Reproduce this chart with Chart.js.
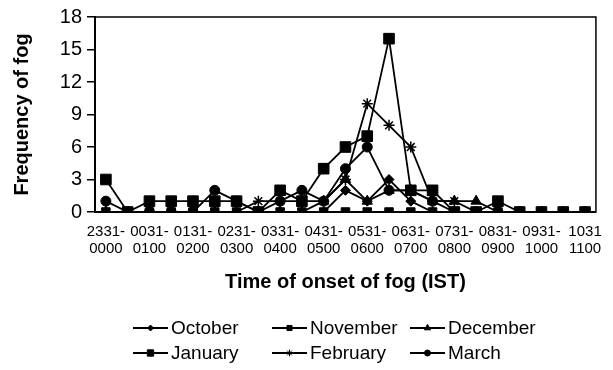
<!DOCTYPE html>
<html>
<head>
<meta charset="utf-8">
<script src="https://cdn.jsdelivr.net/npm/chart.js@4.4.1/dist/chart.umd.min.js"></script>
<style>
  html, body { margin: 0; padding: 0; background: #fff; }
  #wrap { width: 613px; height: 370px; }
</style>
</head>
<body>
<div id="wrap"><canvas id="fog"></canvas></div>
<script>
// half-hour slots (IST)
const timeSlots = ['2331-0000', '0001-0030', '0031-0100', '0101-0130', '0131-0200', '0201-0230',
  '0231-0300', '0301-0330', '0331-0400', '0401-0430', '0431-0500', '0501-0530', '0531-0600',
  '0601-0630', '0631-0700', '0701-0730', '0731-0800', '0801-0830', '0831-0900', '0901-0930',
  '0931-1000', '1001-1030', '1031-1100'];

const october  = [0, 0, 0, 0, 0, 0, 0, 0, 0, 0, 0, 2, 1, 3, 1, 0, 0, 0, 0, 0, 0, 0, 0];
const november = [0, 0, 0, 0, 0, 0, 0, 0, 0, 0, 0, 0, 0, 0, 0, 0, 0, 0, 0, 0, 0, 0, 0];
const december = [0, 0, 0, 0, 0, 0, 0, 0, 0, 0, 1, 3, 1, 2, 2, 1, 1, 1, 0, 0, 0, 0, 0];
const january  = [3, 0, 1, 1, 1, 1, 1, 0, 2, 1, 4, 6, 7, 16, 2, 2, 0, 0, 1, 0, 0, 0, 0];
const february = [0, 0, 0, 0, 0, 0, 0, 1, 1, 1, 1, 3, 10, 8, 6, 1, 1, 0, 0, 0, 0, 0, 0];
const march    = [1, 0, 0, 0, 0, 2, 1, 0, 1, 2, 1, 4, 6, 2, 2, 1, 0, 0, 0, 0, 0, 0, 0];

const yTicks = [0, 3, 6, 9, 12, 15, 18];

const FONT = 'Arial, "Liberation Sans", sans-serif';

function series(label, data, pointStyle, radius) {
  return {
    label, data, pointStyle,
    pointRadius: radius,
    pointHoverRadius: radius,
    legendRadius: Math.max(3, radius * 0.6),
    borderColor: '#000',
    backgroundColor: '#000',
    pointBorderColor: '#000',
    pointBackgroundColor: '#000',
    pointBorderWidth: pointStyle === 'star' ? 1.5 : 1,
    borderWidth: 1.8,
    tension: 0,
    fill: false
  };
}

// box around the plot area
const plotBorder = {
  id: 'plotBorder',
  afterDraw(chart) {
    const { ctx, chartArea: a } = chart;
    ctx.save();
    ctx.strokeStyle = '#000';
    ctx.lineWidth = 1.5;
    ctx.strokeRect(a.left, a.top, a.right - a.left, a.bottom - a.top);
    ctx.restore();
  }
};

// legend laid out as a 3 x 2 grid, like the Excel one
const gridLegend = {
  id: 'gridLegend',
  afterDraw(chart) {
    const { ctx } = chart;
    const cols = [133, 272, 410];
    const rows = [328, 353];
    chart.data.datasets.forEach((ds, i) => {
      const x = cols[i % 3], y = rows[Math.floor(i / 3)];
      ctx.save();
      ctx.strokeStyle = '#000';
      ctx.fillStyle = '#000';
      ctx.lineWidth = 1.8;
      ctx.beginPath();
      ctx.moveTo(x, y);
      ctx.lineTo(x + 35, y);
      ctx.stroke();
      ctx.lineWidth = 1;
      Chart.helpers.drawPoint(ctx, { pointStyle: ds.pointStyle, radius: ds.legendRadius, borderWidth: 1, rotation: 0 }, x + 17.5, y);
      ctx.font = '19px ' + FONT;
      ctx.textBaseline = 'middle';
      ctx.textAlign = 'left';
      ctx.fillText(ds.label, x + 38, y + 1);
      ctx.restore();
    });
  }
};

new Chart(document.getElementById('fog'), {
  type: 'line',
  data: {
    labels: timeSlots,
    datasets: [
      series('October', october, 'rectRot', 5),
      series('November', november, 'rect', 6),
      series('December', december, 'triangle', 6),
      series('January', january, 'rect', 7.5),
      series('February', february, 'star', 5.5),
      series('March', march, 'circle', 5)
    ]
  },
  options: {
    responsive: true,
    maintainAspectRatio: false,
    animation: false,
    layout: { padding: { top: 16, right: 13, bottom: 70, left: 0 } },
    plugins: {
      legend: { display: false },
      tooltip: { enabled: false }
    },
    scales: {
      x: {
        type: 'category',
        offset: true,
        grid: { display: false, drawTicks: false },
        border: { display: true, color: '#000', width: 2 },
        afterFit(scale) { scale.height = 88; },
        ticks: {
          autoSkip: false,
          maxRotation: 0,
          minRotation: 0,
          padding: 11,
          color: '#000',
          font: { family: FONT, size: 15, lineHeight: 1.13 },
          callback(value, index) {
            if (index % 2) return '';
            const [a, b] = timeSlots[index].split('-');
            return [index === timeSlots.length - 1 ? a : a + '-', b];
          }
        },
        title: {
          display: true,
          text: 'Time of onset of fog (IST)',
          color: '#000',
          font: { family: FONT, size: 20, weight: 'bold' },
          padding: { top: 0, bottom: 6 }
        }
      },
      y: {
        min: 0,
        max: 18,
        afterFit(scale) { scale.width = 95; },
        afterBuildTicks(scale) { scale.ticks = yTicks.map(v => ({ value: v })); },
        grid: { display: true, drawOnChartArea: false, drawTicks: true, tickLength: 8, color: '#000', lineWidth: 1.5 },
        border: { display: true, color: '#000', width: 2 },
        ticks: {
          padding: 5,
          color: '#000',
          font: { family: FONT, size: 20 }
        },
        title: {
          display: true,
          text: 'Frequency of fog',
          color: '#000',
          font: { family: FONT, size: 20, weight: 'bold' },
          padding: { top: 10, bottom: 0 }
        }
      }
    }
  },
  plugins: [plotBorder, gridLegend]
});
</script>
</body>
</html>
